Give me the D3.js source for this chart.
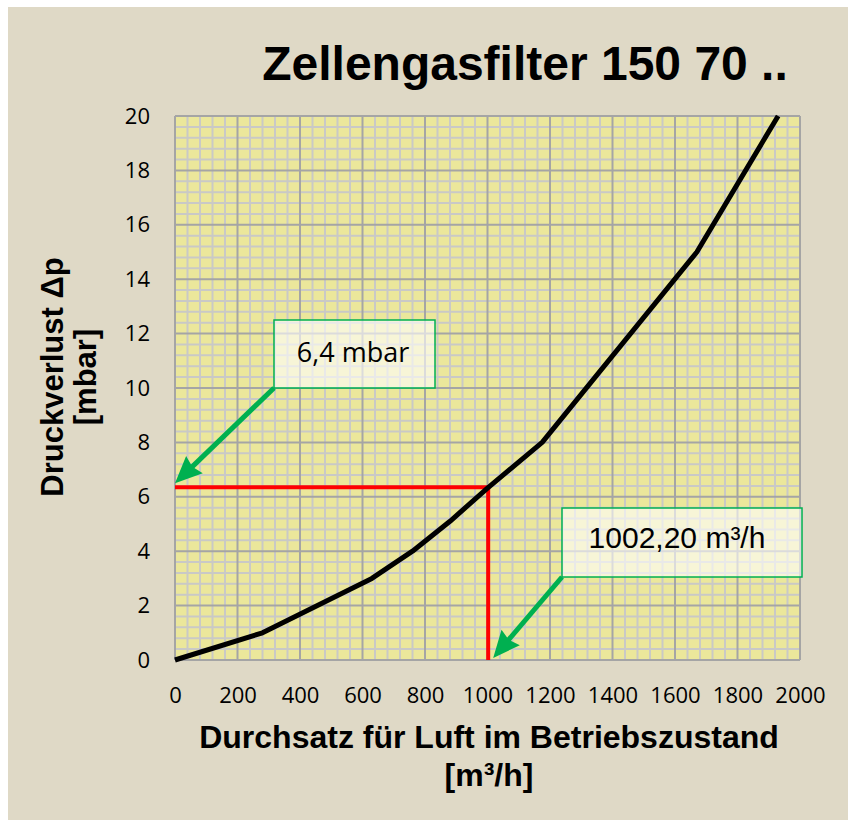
<!DOCTYPE html>
<html>
<head>
<meta charset="utf-8">
<script src="https://cdn.jsdelivr.net/npm/d3@7"></script>
<style>
  html, body { margin: 0; padding: 0; background: #fff; }
  svg { display: block; }
</style>
</head>
<body>
<div id="chart"></div>
<script>
// Curve (flow in m³/h, pressure drop in mbar)
var flowValues = [0, 280, 630, 760, 880, 1000, 1175, 1670, 1930];
var pressureValues = [0, 1, 3, 4, 5.1, 6.32, 8, 15, 20];

var xTicks = [0, 200, 400, 600, 800, 1000, 1200, 1400, 1600, 1800, 2000];
var yTicks = [0, 2, 4, 6, 8, 10, 12, 14, 16, 18, 20];

// operating point marked in red
var markFlow = 1002.2;
var markPressure = 6.35;
var markLabels = ['6,4 mbar', '1002,20 m³/h'];

var titleText = 'Zellengasfilter 150 70 ..';
var xTitle = ['Durchsatz für Luft im Betriebszustand', '[m³/h]'];
var yTitle = ['Druckverlust Δp', '[mbar]'];

var width = 848,
  height = 820,
  plot = { left: 175, top: 116, right: 800, bottom: 660 };

var svg = d3.select('#chart').append('svg')
  .attr('width', width)
  .attr('height', height);

// chart area background
svg.append('rect')
  .attr('x', 8).attr('y', 7)
  .attr('width', width - 8).attr('height', height - 7)
  .attr('fill', '#dfd9c6');

var x = d3.scaleLinear().domain([0, 2000]).range([plot.left, plot.right]);
var y = d3.scaleLinear().domain([0, 20]).range([plot.bottom, plot.top]);

svg.append('rect')
  .attr('x', plot.left).attr('y', plot.top)
  .attr('width', plot.right - plot.left).attr('height', plot.bottom - plot.top)
  .attr('fill', '#ebe79b');

// grid: minor lines first, then major
var grid = svg.append('g');
var minorX = d3.range(0, 2001, 40).filter(function(d) { return d % 200 !== 0; });
var minorY = d3.range(0, 51).map(function(i) { return i * 0.4; }).filter(function(d, i) { return i % 5 !== 0; });

grid.selectAll('line.mx').data(minorX).enter().append('line')
  .attr('x1', x).attr('x2', x).attr('y1', plot.top).attr('y2', plot.bottom)
  .attr('stroke', '#c9c9c6').attr('stroke-width', 2);
grid.selectAll('line.my').data(minorY).enter().append('line')
  .attr('y1', y).attr('y2', y).attr('x1', plot.left).attr('x2', plot.right)
  .attr('stroke', '#c9c9c6').attr('stroke-width', 2);
grid.selectAll('line.Mx').data(xTicks).enter().append('line')
  .attr('x1', x).attr('x2', x).attr('y1', plot.top).attr('y2', plot.bottom)
  .attr('stroke', '#a5a5a5').attr('stroke-width', 2);
grid.selectAll('line.My').data(yTicks).enter().append('line')
  .attr('y1', y).attr('y2', y).attr('x1', plot.left).attr('x2', plot.right)
  .attr('stroke', '#a5a5a5').attr('stroke-width', 2);

// axes (labels only)
var xAxis = svg.append('g')
  .attr('transform', 'translate(0,' + plot.bottom + ')')
  .call(d3.axisBottom(x).tickValues(xTicks).tickSize(0).tickPadding(27).tickFormat(d3.format('d')));
var yAxis = svg.append('g')
  .attr('transform', 'translate(' + plot.left + ',0)')
  .call(d3.axisLeft(y).tickValues(yTicks).tickSize(0).tickPadding(25).tickFormat(d3.format('d')));

[xAxis, yAxis].forEach(function(a) {
  a.select('.domain').remove();
  a.selectAll('text')
    .style('font-family', '"Open Sans", sans-serif')
    .style('font-size', '22px')
    .attr('fill', '#000');
});

// red marker lines
var red = svg.append('g').attr('fill', 'none').attr('stroke', '#ff0000').attr('stroke-width', 4);
red.append('path')
  .attr('d', d3.line()([[x(0), y(markPressure)], [x(markFlow), y(markPressure)], [x(markFlow), y(0)]]));

// curve
var curveLine = d3.line()
  .x(function(d) { return x(d); })
  .y(function(d, i) { return y(pressureValues[i]); });

svg.append('path')
  .datum(flowValues)
  .attr('d', curveLine)
  .attr('fill', 'none')
  .attr('stroke', '#000')
  .attr('stroke-width', 5)
  .attr('stroke-linejoin', 'round');

// callout boxes with arrows
var callouts = [
  { box: [274, 320, 161, 68], from: [274, 388], to: [x(0), y(markPressure) - 4], text: markLabels[0],
    tx: 353, ty: 362, font: '"Open Sans", sans-serif', size: 27 },
  { box: [562, 508, 240, 69], from: [562, 577], to: [x(markFlow) + 5, y(0) - 2], text: markLabels[1],
    tx: 677, ty: 548, font: '"Liberation Sans", Arial, sans-serif', size: 30 }
];

function arrow(g, from, to) {
  var dx = to[0] - from[0], dy = to[1] - from[1],
    len = Math.sqrt(dx * dx + dy * dy),
    ux = dx / len, uy = dy / len,
    headLen = 27, headW = 12,
    bx = to[0] - ux * headLen, by = to[1] - uy * headLen;

  g.append('line')
    .attr('x1', from[0]).attr('y1', from[1])
    .attr('x2', bx + ux * 4).attr('y2', by + uy * 4)
    .attr('stroke', '#00b050').attr('stroke-width', 5);
  g.append('path')
    .attr('d', 'M' + to[0] + ',' + to[1] +
      'L' + (bx - uy * headW) + ',' + (by + ux * headW) +
      'L' + (bx + ux * 3) + ',' + (by + uy * 3) +
      'L' + (bx + uy * headW) + ',' + (by - ux * headW) + 'Z')
    .attr('fill', '#00b050');
}

callouts.forEach(function(c) {
  var g = svg.append('g');
  arrow(g, c.from, c.to);
  g.append('rect')
    .attr('x', c.box[0]).attr('y', c.box[1])
    .attr('width', c.box[2]).attr('height', c.box[3])
    .attr('fill', '#ffffff').attr('fill-opacity', 0.6)
    .attr('stroke', '#00b050').attr('stroke-width', 1.5);
  g.append('text')
    .attr('x', c.tx).attr('y', c.ty)
    .attr('text-anchor', 'middle')
    .style('font-family', c.font)
    .style('font-size', c.size + 'px')
    .text(c.text);
});

// titles
svg.append('text')
  .attr('x', 525).attr('y', 80)
  .attr('text-anchor', 'middle')
  .style('font-family', '"Liberation Sans", Arial, sans-serif')
  .style('font-weight', 'bold')
  .style('font-size', '48px')
  .text(titleText);

svg.selectAll('text.xtitle').data(xTitle).enter().append('text')
  .attr('x', 489)
  .attr('y', function(d, i) { return 748 + i * 38; })
  .attr('text-anchor', 'middle')
  .style('font-family', '"Liberation Sans", Arial, sans-serif')
  .style('font-weight', 'bold')
  .style('font-size', '32px')
  .text(function(d) { return d; });

svg.selectAll('text.ytitle').data(yTitle).enter().append('text')
  .attr('transform', function(d, i) { return 'translate(' + (63 + i * 33) + ',377)rotate(-90)'; })
  .attr('text-anchor', 'middle')
  .style('font-family', '"Liberation Sans", Arial, sans-serif')
  .style('font-weight', 'bold')
  .style('font-size', '31px')
  .text(function(d) { return d; });
</script>
</body>
</html>
